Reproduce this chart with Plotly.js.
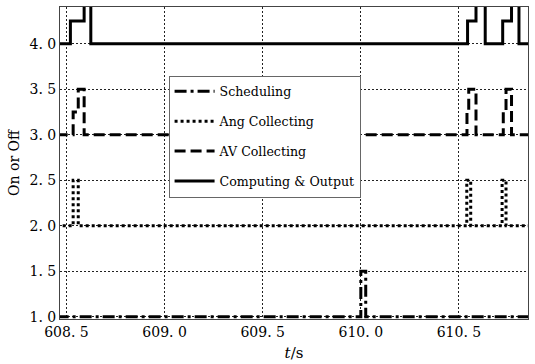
<!DOCTYPE html>
<html>
<head>
<meta charset="utf-8">
<script src="https://cdn.plot.ly/plotly-3.0.1.min.js"></script>
<style>html,body{margin:0;padding:0;background:#fff;}#chart{width:535px;height:364px;}</style>
</head>
<body>
<div id="chart"></div>
<script>
// Series (step signals, value changes at given times)
const schedT = [608.45, 610.0, 610.025, 610.86];
const schedV = [1, 1.5, 1, 1];
const angT = [608.45, 608.534, 608.56, 610.54, 610.56, 610.72, 610.74, 610.86];
const angV = [2, 2.5, 2, 2.5, 2, 2.5, 2, 2];
const avT = [608.45, 608.534, 608.56, 608.59, 610.541, 610.55, 610.587, 610.726, 610.74, 610.768, 610.86];
const avV = [3, 3.25, 3.5, 3, 3.25, 3.5, 3, 3.25, 3.5, 3, 3];
const compT = [608.45, 608.52, 608.59, 608.624, 610.544, 610.587, 610.634, 610.723, 610.768, 610.806, 610.86];
const compV = [4, 4.25, 4.5, 4, 4.25, 4.5, 4, 4.25, 4.5, 4, 4];
const names = ['Scheduling', 'Ang Collecting', 'AV Collecting', 'Computing & Output'];
const xTickVals = [608.5, 609.0, 609.5, 610.0, 610.5];
const xTickText = ['608. 5', '609. 0', '609. 5', '610. 0', '610. 5'];
const yTickVals = [1.0, 1.5, 2.0, 2.5, 3.0, 3.5, 4.0];
const yTickText = ['1. 0', '1. 5', '2. 0', '2. 5', '3. 0', '3. 5', '4. 0'];

const FONT = 'DejaVu Serif';
const mk = (t, v, name, dash, g) => ({
  x: t, y: v, name: name, type: 'scatter', mode: 'lines',
  line: {shape: 'hv', color: '#000', width: 3, dash: dash},
  legendgroup: g
});
const data = [
  mk(schedT, schedV, names[0], '12px,4px,3px,4px', 'a'),
  mk(angT, angV, names[1], '3px,3px', 'b'),
  mk(avT, avV, names[2], '11px,5px', 'c'),
  mk(compT, compV, names[3], 'solid', 'd')
];
const axisCommon = {
  showline: true, mirror: true, linecolor: '#444', linewidth: 1,
  showgrid: true, gridcolor: '#222', griddash: '2px,2px', gridwidth: 1,
  zeroline: false, ticks: '', tickfont: {family: FONT, size: 14, color: '#000'}
};
const layout = {
  width: 535, height: 364,
  margin: {l: 60, r: 7, t: 7, b: 45},
  paper_bgcolor: '#fff', plot_bgcolor: '#fff',
  showlegend: true,
  legend: {
    x: 0.232, y: 0.78, xanchor: 'left', yanchor: 'top',
    bgcolor: '#fff', bordercolor: '#666', borderwidth: 1,
    font: {family: FONT, size: 12.6, color: '#000'},
    tracegroupgap: 10.5, traceorder: 'grouped', itemwidth: 40
  },
  xaxis: Object.assign({}, axisCommon, {
    range: [608.467, 610.852], tickmode: 'array', tickvals: xTickVals, ticktext: xTickText,
    title: {text: '<i>t</i>/s', font: {family: FONT, size: 15, color: '#000'}, standoff: 8}
  }),
  yaxis: Object.assign({}, axisCommon, {
    range: [0.975, 4.405], tickmode: 'array', tickvals: yTickVals, ticktext: yTickText,
    title: {text: 'On or Off', font: {family: FONT, size: 14, color: '#000'}, standoff: 6}
  })
};
Plotly.newPlot('chart', data, layout, {staticPlot: true, displayModeBar: false});
</script>
</body>
</html>
